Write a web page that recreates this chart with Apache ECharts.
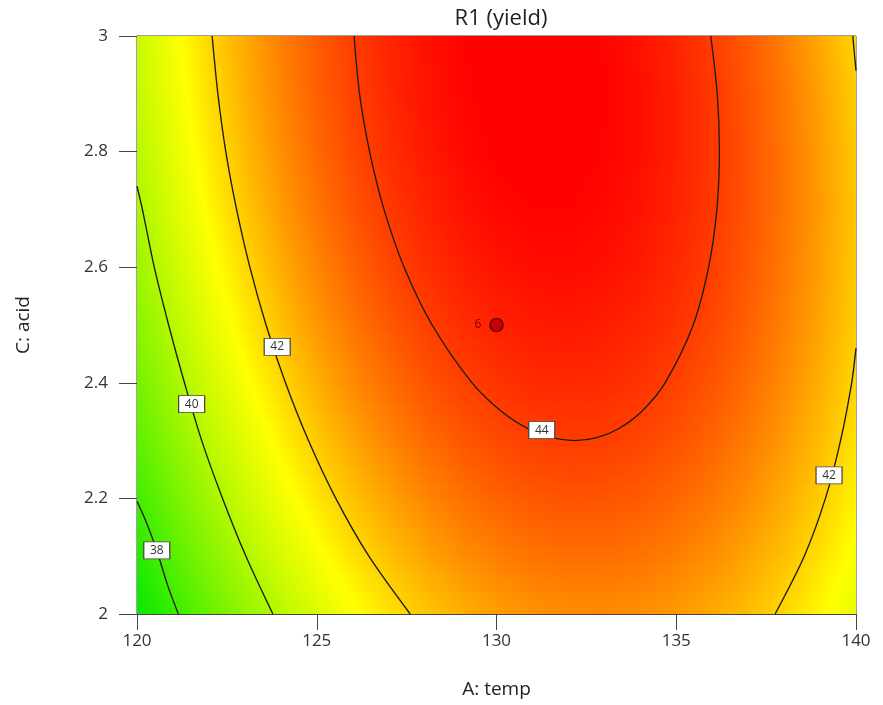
<!DOCTYPE html>
<html><head><meta charset="utf-8">
<script src="https://cdn.jsdelivr.net/npm/echarts@6/dist/echarts.min.js"></script>
<style>html,body{margin:0;padding:0;background:#fff}#c{width:883px;height:705px}</style>
</head><body><div id="c"></div>
<script>
// ---- data ----
const chartTitle = 'R1 (yield)';
const xName = 'A: temp';
const yName = 'C: acid';
const xTickValues = [120, 125, 130, 135, 140];
const yTickValues = [2, 2.2, 2.4, 2.6, 2.8, 3];

// grid nodes (A: temp, C: acid) and estimated yield at each node
const tempValues = [120,121,122,123,124,125,126,127,128,129,130,131,132,133,134,135,136,137,138,139,140];
const acidValues = [2.0,2.1,2.2,2.3,2.4,2.5,2.6,2.7,2.8,2.9,3.0];
const yieldRow20 = [37.08,37.97,38.78,39.53,40.19,40.79,41.32,41.77,42.14,42.45,42.68,42.84,42.92,42.94,42.88,42.74,42.54,42.26,41.91,41.48,40.98];
const yieldRow21 = [37.63,38.51,39.31,40.04,40.70,41.28,41.79,42.23,42.60,42.89,43.11,43.26,43.33,43.33,43.26,43.11,42.89,42.60,42.24,41.80,41.29];
const yieldRow22 = [38.13,39.00,39.79,40.51,41.15,41.73,42.22,42.65,43.00,43.28,43.49,43.63,43.69,43.68,43.59,43.43,43.20,42.90,42.52,42.07,41.55];
const yieldRow23 = [38.59,39.45,40.22,40.93,41.56,42.12,42.61,43.02,43.37,43.63,43.83,43.95,44.00,43.98,43.88,43.71,43.47,43.15,42.76,42.30,41.76];
const yieldRow24 = [39.00,39.84,40.61,41.30,41.92,42.47,42.95,43.35,43.68,43.93,44.12,44.23,44.26,44.23,44.12,43.94,43.68,43.35,42.95,42.48,41.93];
const yieldRow25 = [39.37,40.19,40.95,41.63,42.24,42.78,43.24,43.63,43.94,44.19,44.36,44.46,44.48,44.43,44.31,44.12,43.85,43.51,43.09,42.61,42.05];
const yieldRow26 = [39.68,40.50,41.24,41.91,42.51,43.03,43.48,43.86,44.16,44.39,44.55,44.64,44.65,44.59,44.46,44.25,43.97,43.62,43.19,42.69,42.12];
const yieldRow27 = [39.95,40.76,41.49,42.14,42.73,43.24,43.68,44.04,44.33,44.55,44.70,44.77,44.77,44.70,44.55,44.34,44.04,43.68,43.24,42.73,42.15];
const yieldRow28 = [40.18,40.97,41.68,42.33,42.90,43.40,43.83,44.18,44.46,44.67,44.80,44.86,44.85,44.76,44.61,44.37,44.07,43.69,43.24,42.72,42.12];
const yieldRow29 = [40.35,41.13,41.84,42.47,43.03,43.52,43.93,44.27,44.54,44.73,44.85,44.90,44.88,44.78,44.61,44.37,44.05,43.66,43.20,42.66,42.06];
const yieldRow30 = [40.48,41.25,41.94,42.56,43.11,43.58,43.98,44.31,44.57,44.75,44.86,44.90,44.86,44.75,44.57,44.31,43.98,43.58,43.11,42.56,41.94];
const yieldGrid = [yieldRow20,yieldRow21,yieldRow22,yieldRow23,yieldRow24,yieldRow25,yieldRow26,yieldRow27,yieldRow28,yieldRow29,yieldRow30];

// contour lines [A, C]
const contour38 = [[121.15,2.0],[120.85,2.05],[120.55,2.11],[120.25,2.16],[120.0,2.195]];
const contour40 = [[123.78,2.0],[123.03,2.1],[122.38,2.2],[121.80,2.3],[121.32,2.4],[120.88,2.5],[120.48,2.6],[120.15,2.7],[120.0,2.74]];
const contour42Left = [[127.60,2.0],[126.45,2.1],[125.53,2.2],[124.77,2.3],[124.13,2.4],[123.59,2.5],[123.14,2.6],[122.77,2.7],[122.47,2.8],[122.25,2.9],[122.09,3.0]];
const contour42Right = [[137.75,2.0],[138.56,2.1],[139.15,2.2],[139.57,2.3],[139.88,2.4],[140.0,2.46]];
const contour42RightTop = [[139.91,3.0],[140.0,2.94]];
const contour44 = [[126.04,3.0],[126.19,2.9],[126.47,2.8],[126.87,2.7],[127.43,2.6],[128.21,2.5],[129.32,2.4],[130.15,2.35],[130.90,2.32],[131.54,2.305],[132.17,2.30],[132.79,2.305],[133.38,2.32],[134.03,2.35],[134.69,2.4],[135.47,2.5],[135.90,2.6],[136.13,2.7],[136.20,2.8],[136.14,2.9],[135.96,3.0]];
const contourLabels = [[120.55,2.11,'38'],[121.52,2.363,'40'],[123.9,2.462,'42'],[139.25,2.24,'42'],[131.26,2.318,'44']];
const designPoints = [[130, 2.5, '6']];

// colour scale: value -> rgb
const colorStops = [[37.0,[0,232,0]],[41.4,[255,255,0]],[44.8,[255,0,0]]];

function colorOf(v){
  if (v <= colorStops[0][0]) return colorStops[0][1];
  const last = colorStops[colorStops.length-1];
  if (v >= last[0]) return last[1];
  for (let k=0;k<colorStops.length-1;k++){
    const s0=colorStops[k], s1=colorStops[k+1];
    if (v>=s0[0] && v<=s1[0]){
      const t=(v-s0[0])/(s1[0]-s0[0]);
      return [0,1,2].map(n=>Math.round(s0[1][n]+(s1[1][n]-s0[1][n])*t));
    }
  }
  return last[1];
}
function rgb(c){return 'rgb('+c[0]+','+c[1]+','+c[2]+')';}
function gradientFill(vl, vr){
  const stops=[{offset:0,color:rgb(colorOf(vl))}];
  const lo=Math.min(vl,vr), hi=Math.max(vl,vr);
  colorStops.forEach(s=>{
    if (s[0]>lo && s[0]<hi){ stops.push({offset:(s[0]-vl)/(vr-vl),color:rgb(s[1])}); }
  });
  stops.push({offset:1,color:rgb(colorOf(vr))});
  stops.sort((a,b)=>a.offset-b.offset);
  return new echarts.graphic.LinearGradient(0,0,1,0,stops);
}

const cellData=[];
for (let j=0;j<acidValues.length-1;j++){
  for (let i=0;i<tempValues.length-1;i++){
    cellData.push([tempValues[i], acidValues[j], i, j]);
  }
}

function renderCell(params, api){
  const i=api.value(2), j=api.value(3);
  const tl=api.coord([tempValues[i], acidValues[j+1]]);
  const br=api.coord([tempValues[i+1], acidValues[j]]);
  const v00=yieldGrid[j][i], v10=yieldGrid[j][i+1], v01=yieldGrid[j+1][i], v11=yieldGrid[j+1][i+1];
  const N=8, w=br[0]-tl[0], h=(br[1]-tl[1])/N;
  const children=[];
  for (let k=0;k<N;k++){
    const t=1-(k+0.5)/N;
    const vl=v00+(v01-v00)*t, vr=v10+(v11-v10)*t;
    children.push({type:'rect', silent:true,
      shape:{x:tl[0], y:tl[1]+k*h, width:w+0.8, height:h+0.8},
      style:{fill:gradientFill(vl,vr), stroke:null}});
  }
  return {type:'group', children};
}

const font='"Open Sans", "Noto Sans", sans-serif';
function lineSeries(name, data){
  return {name, type:'line', data, showSymbol:false, symbol:'none', smooth:0.3, silent:true,
    lineStyle:{color:'#1b1b1b', width:1.35}, z:3, animation:false, clip:true};
}

const chart=echarts.init(document.getElementById('c'), null, {renderer:'canvas'});
chart.setOption({
  animation:false,
  title:{text:chartTitle, left:496, top:3, textAlign:'center',
    textStyle:{fontFamily:font, fontSize:22, fontWeight:'normal', color:'#222'}},
  grid:{left:137, right:27, top:36, bottom:91, show:true, borderColor:'#444', borderWidth:1, backgroundColor:'transparent'},
  xAxis:{type:'value', min:xTickValues[0], max:xTickValues[xTickValues.length-1], interval:xTickValues[1]-xTickValues[0],
    name:xName, nameLocation:'middle', nameGap:66,
    nameTextStyle:{fontFamily:font, fontSize:19, color:'#222'},
    axisLine:{show:true, onZero:false, lineStyle:{color:'#444'}},
    axisTick:{show:true, length:16, lineStyle:{color:'#444'}},
    axisLabel:{fontFamily:font, fontSize:17, color:'#333', margin:19},
    splitLine:{show:false}},
  yAxis:{type:'value', min:yTickValues[0], max:yTickValues[yTickValues.length-1], interval:0.2,
    name:yName, nameLocation:'middle', nameGap:104, nameRotate:90,
    nameTextStyle:{fontFamily:font, fontSize:19, color:'#222'},
    axisLine:{show:true, onZero:false, lineStyle:{color:'#444'}},
    axisTick:{show:true, length:18, lineStyle:{color:'#444'}},
    axisLabel:{fontFamily:font, fontSize:17, color:'#333', margin:29},
    splitLine:{show:false}},
  series:[
    {type:'custom', name:'surface', data:cellData, renderItem:renderCell, clip:true, silent:true, z:1,
      encode:{x:0, y:1}, animation:false},
    lineSeries('38', contour38),
    lineSeries('40', contour40),
    lineSeries('42a', contour42Left),
    lineSeries('42b', contour42Right),
    lineSeries('42c', contour42RightTop),
    lineSeries('44', contour44),
    {type:'scatter', name:'labels', data:contourLabels, symbol:'rect', symbolSize:[26,17], z:5, silent:true,
      itemStyle:{color:'#fff', borderColor:'#444', borderWidth:1, opacity:1},
      label:{show:true, position:'inside', formatter:p=>p.value[2], fontFamily:font, fontSize:12, color:'#333'}},
    {type:'scatter', name:'design', data:designPoints, symbol:'circle', symbolSize:13, z:6, silent:true,
      itemStyle:{color:'#c80000', borderColor:'#6e0000', borderWidth:1.5, opacity:1},
      label:{show:true, position:'left', distance:8, formatter:p=>p.value[2], fontFamily:font, fontSize:12, color:'#7a0000'}}
  ]
});
</script></body></html>
